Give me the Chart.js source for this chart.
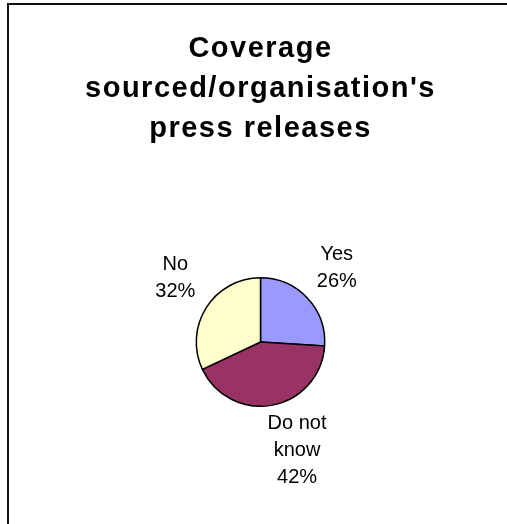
<!DOCTYPE html>
<html>
<head>
<meta charset="utf-8">
<script src="https://cdn.jsdelivr.net/npm/chart.js@4.4.1/dist/chart.umd.min.js"></script>
<style>
  html, body { margin: 0; padding: 0; background: #fff; overflow: hidden; }
  #wrap { position: relative; width: 507px; height: 524px; overflow: hidden; }
  #frame { position: absolute; left: 7px; top: 3px; width: 600px; height: 600px; border: 2px solid #111; }
  #c { position: absolute; left: 7px; top: 0; }
</style>
</head>
<body>
<div id="wrap">
  <div id="frame"></div>
  <canvas id="c" width="507" height="524"></canvas>
</div>
<script>
// ── data ───────────────────────────────────────────────
const titleLines = ['Coverage', "sourced/organisation's", 'press releases'];
const categories = ['Yes', 'Do not know', 'No'];
const values     = [26, 42, 32];
const colors     = ['#9999FF', '#993366', '#FFFFCC'];

const FONT = '"Liberation Sans", Arial, sans-serif';

// the old Excel title is set a touch looser than the canvas default
const titleSpacing = {
  id: 'titleSpacing',
  beforeDraw(chart) { chart.ctx.letterSpacing = '1.5px'; },
  beforeDatasetsDraw(chart) { chart.ctx.letterSpacing = '0px'; }
};

// outside labels, Excel style: name + percent, wrapped, box pushed off the slice middle
const outsideLabels = {
  id: 'outsideLabels',
  afterDatasetsDraw(chart) {
    const ctx = chart.ctx;
    const meta = chart.getDatasetMeta(0);
    const total = values.reduce((a, b) => a + b, 0);
    const size = 20, lh = 27, gapX = 13, gapY = 5, maxW = 70;
    ctx.save();
    ctx.letterSpacing = '0px';
    ctx.font = size + 'px ' + FONT;
    ctx.fillStyle = '#000';
    ctx.textAlign = 'center';
    ctx.textBaseline = 'middle';
    const push = v => Math.sign(v) * Math.min(1, 4 * Math.abs(v));
    meta.data.forEach((arc, i) => {
      const { x, y, startAngle, endAngle, outerRadius } = arc.getProps(['x', 'y', 'startAngle', 'endAngle', 'outerRadius'], true);
      const mid = (startAngle + endAngle) / 2;
      const words = categories[i].split(' ');
      const lines = [];
      let cur = '';
      words.forEach(w => {
        const t = cur ? cur + ' ' + w : w;
        if (cur && ctx.measureText(t).width > maxW) { lines.push(cur); cur = w; } else cur = t;
      });
      lines.push(cur);
      lines.push(Math.round(values[i] / total * 100) + '%');
      const w = Math.max(...lines.map(l => ctx.measureText(l).width));
      const h = lines.length * lh;
      const cx = Math.cos(mid), sy = Math.sin(mid);
      const ax = x + cx * outerRadius, ay = y + sy * outerRadius;
      const lx = ax + cx * gapX + push(cx) * w / 2;
      const ly = ay + sy * gapY + push(sy) * h / 2;
      lines.forEach((l, k) => ctx.fillText(l, lx, ly - h / 2 + lh / 2 + k * lh));
    });
    ctx.restore();
  }
};

new Chart(document.getElementById('c'), {
  type: 'pie',
  data: {
    labels: categories,
    datasets: [{
      data: values,
      backgroundColor: colors,
      borderColor: '#000',
      borderWidth: 1.5
    }]
  },
  options: {
    responsive: false,
    animation: false,
    layout: { padding: { left: 0, right: 0, top: 0, bottom: 117 } },
    plugins: {
      legend: { display: false },
      tooltip: { enabled: false },
      title: {
        display: true,
        text: titleLines,
        color: '#000',
        font: { family: FONT, size: 29, weight: 'bold', lineHeight: 1.38 },
        padding: { top: 29, bottom: 128 }
      }
    }
  },
  plugins: [titleSpacing, outsideLabels]
});
</script>
</body>
</html>
